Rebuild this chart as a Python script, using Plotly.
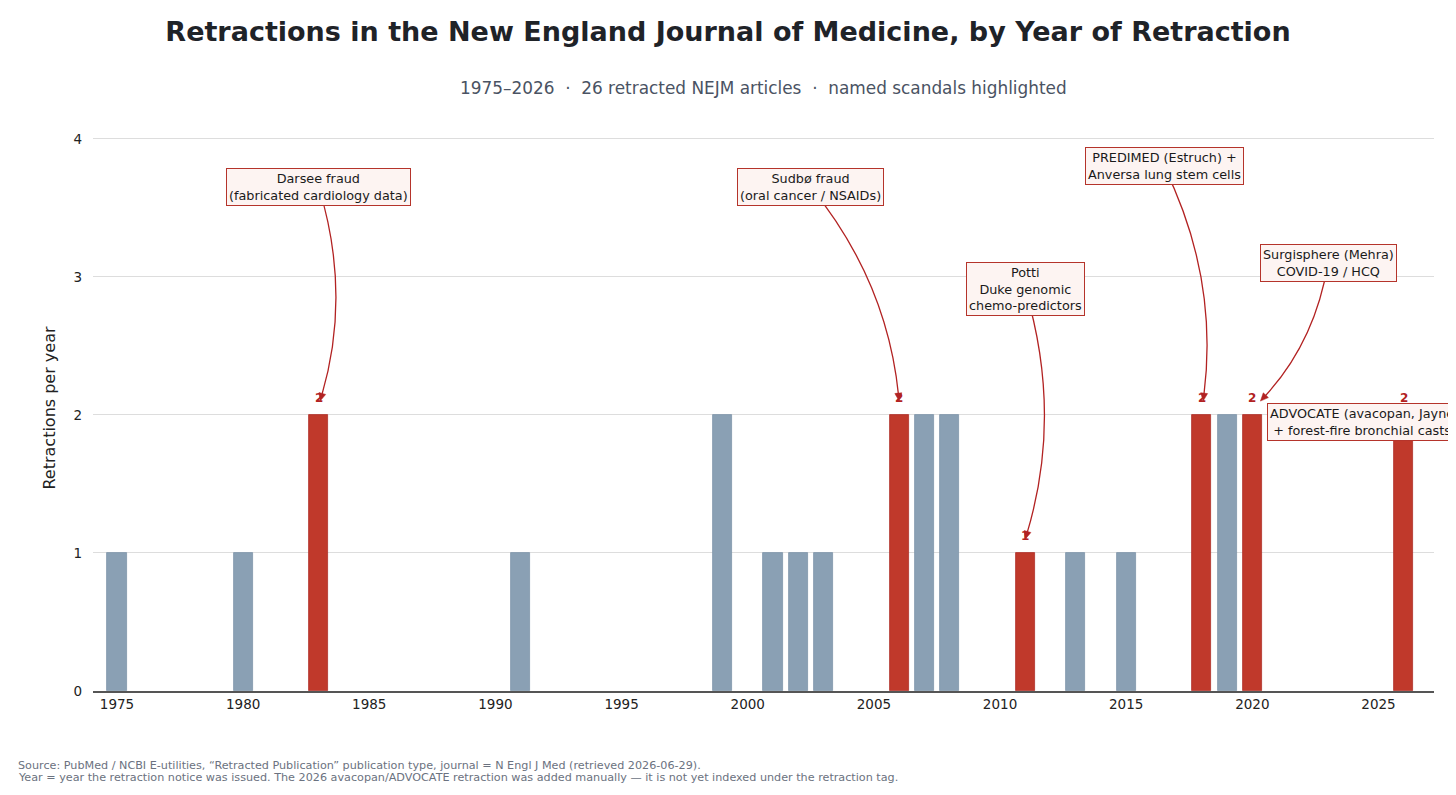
import math
import plotly.graph_objects as go

# --- data -------------------------------------------------------------
years = [1975, 1980, 1983, 1991, 1999, 2001, 2002, 2003, 2006, 2007, 2008,
         2011, 2013, 2015, 2018, 2019, 2020, 2026]
counts = [1, 1, 2, 1, 2, 1, 1, 1, 2, 2, 2, 1, 1, 1, 2, 2, 2, 2]
scandal_years = [1983, 2006, 2011, 2018, 2020, 2026]
scandal_labels = [
    "Darsee fraud<br>(fabricated cardiology data)",
    "Sudbø fraud<br>(oral cancer / NSAIDs)",
    "Potti<br>Duke genomic<br>chemo-predictors",
    "PREDIMED (Estruch) +<br>Anversa lung stem cells",
    "Surgisphere (Mehra)<br>COVID-19 / HCQ",
    "ADVOCATE (avacopan, Jayne)<br>+ forest-fire bronchial casts)",
]
footnote = [
    "Source: PubMed / NCBI E-utilities, “Retracted Publication” publication type, journal = N Engl J Med (retrieved 2026-06-29).",
    "Year = year the retraction notice was issued. The 2026 avacopan/ADVOCATE retraction was added manually — it is not yet indexed under the retraction tag.",
]

# --- layout constants -------------------------------------------------
# page body has an 8px margin, so the figure is 8px smaller than the window
W, H = 1448, 787
ML, MR, MT, MB = 85, 22, 117, 104
X0, X1 = 1974.05, 2027.2
YTOP = 4.1
GREY = "#8aa0b4"
RED = "#c0392b"
EDGE = "#b0302a"

# box centre (year, y) for each scandal label; arrow tip x nudge
box_pos = [(1983.0, 3.65), (2002.5, 3.65), (2011.0, 2.91),
           (2016.5, 3.80), (2023.0, 3.10), (2020.6, 1.95)]
tip_dx = [0.05, 0.0, 0.0, 0.05, 0.32, None]

PW = W - ML - MR
PH = H - MT - MB


def to_px(x, y):
    return ML + (x - X0) / (X1 - X0) * PW, MT + (1 - y / YTOP) * PH


def to_data(px, py):
    return X0 + (px - ML) / PW * (X1 - X0), (1 - (py - MT) / PH) * YTOP


colors = [RED if y in scandal_years else GREY for y in years]
lines = [EDGE if y in scandal_years else "#7f95a9" for y in years]

fig = go.Figure()
fig.add_trace(go.Bar(
    x=years, y=counts, width=0.76,
    marker=dict(color=colors, line=dict(color=lines, width=0.8)),
    hoverinfo="x+y", showlegend=False,
))

annotations = []
shapes = []
count_of = dict(zip(years, counts))

# value labels above highlighted bars
for yr in scandal_years:
    annotations.append(dict(
        x=yr, y=count_of[yr] + 0.12, text=f"<b>{count_of[yr]}</b>",
        showarrow=False, font=dict(size=12, color="#b22222"),
    ))

# curved arrows (arc) from label box to bar
for (bx, by), yr, dx in zip(box_pos, scandal_years, tip_dx):
    if dx is None:
        continue
    sx, sy = to_px(bx, by)
    ex, ey = to_px(yr + dx, count_of[yr] + 0.10)
    ddx, ddy = ex - sx, ey - sy
    cx = (sx + ex) / 2 + 0.15 * ddy
    cy = (sy + ey) / 2 - 0.15 * ddx
    tx, ty = ex - cx, ey - cy
    n = math.hypot(tx, ty)
    ux, uy = tx / n, ty / n
    lx, ly = ex - ux * 6, ey - uy * 6
    d_s, d_c, d_e = to_data(sx, sy), to_data(cx, cy), to_data(lx, ly)
    shapes.append(dict(
        type="path", xref="x", yref="y", layer="above",
        path=f"M {d_s[0]},{d_s[1]} Q {d_c[0]},{d_c[1]} {d_e[0]},{d_e[1]}",
        line=dict(color="#b22222", width=1.3),
    ))
    bxp, byp = ex - ux * 8, ey - uy * 8
    p1 = to_data(bxp - uy * 3.5, byp + ux * 3.5)
    p2 = to_data(bxp + uy * 3.5, byp - ux * 3.5)
    tip = to_data(ex, ey)
    shapes.append(dict(
        type="path", xref="x", yref="y", layer="above",
        path=f"M {tip[0]},{tip[1]} L {p1[0]},{p1[1]} L {p2[0]},{p2[1]} Z",
        fillcolor="#b22222", line=dict(color="#b22222", width=0.5),
    ))

# label boxes
for (bx, by), txt, dx in zip(box_pos, scandal_labels, tip_dx):
    annotations.append(dict(
        x=bx, y=by, text=txt, showarrow=False,
        xanchor="left" if dx is None else "center",
        font=dict(size=12.8, color="#1a1a1a"),
        bgcolor="#fdf4f2", bordercolor="#b5342b", borderwidth=1, borderpad=2,
    ))

# subtitle and footnote
annotations.append(dict(
    xref="paper", yref="paper", x=0.5, y=1, yshift=49,
    text="1975–2026  ·  26 retracted NEJM articles  ·  named scandals highlighted",
    showarrow=False, font=dict(size=16.9, color="#4a5363")))
for i, line in enumerate(footnote):
    annotations.append(dict(
        xref="paper", yref="paper", x=(8 - ML) / PW, xanchor="left",
        y=0, yanchor="middle", yshift=-(757 + 12 * i - (H - MB)),
        text=line, showarrow=False, font=dict(size=11.2, color="#6b7280")))

fig.update_layout(
    width=W, height=H,
    margin=dict(l=ML, r=MR, t=MT, b=MB),
    paper_bgcolor="white", plot_bgcolor="white",
    font=dict(family="DejaVu Sans", color="#222222"),
    title=dict(text="<b>Retractions in the New England Journal of Medicine, by Year of Retraction</b>",
               x=(728 - 8) / W, xanchor="center", y=1 - 24 / H, yanchor="middle",
               font=dict(size=27, color="#1f2328")),
    xaxis=dict(range=[X0, X1], tickvals=[1975, 1980, 1985, 1990, 1995, 2000,
                                         2005, 2010, 2015, 2020, 2025],
               showgrid=False, zeroline=False, showline=True,
               linecolor="#555555", linewidth=1.5, ticks="",
               tickfont=dict(size=13.5)),
    yaxis=dict(range=[0, YTOP], tickvals=[0, 1, 2, 3, 4], showgrid=True,
               gridcolor="#dddddd", gridwidth=1, zeroline=False, showline=False,
               ticks="", tickfont=dict(size=13.5), ticklabelstandoff=10,
               title=dict(text="Retractions per year", font=dict(size=16), standoff=13)),
    annotations=annotations,
    shapes=shapes,
    bargap=0,
)

fig.write_html("out.html")
